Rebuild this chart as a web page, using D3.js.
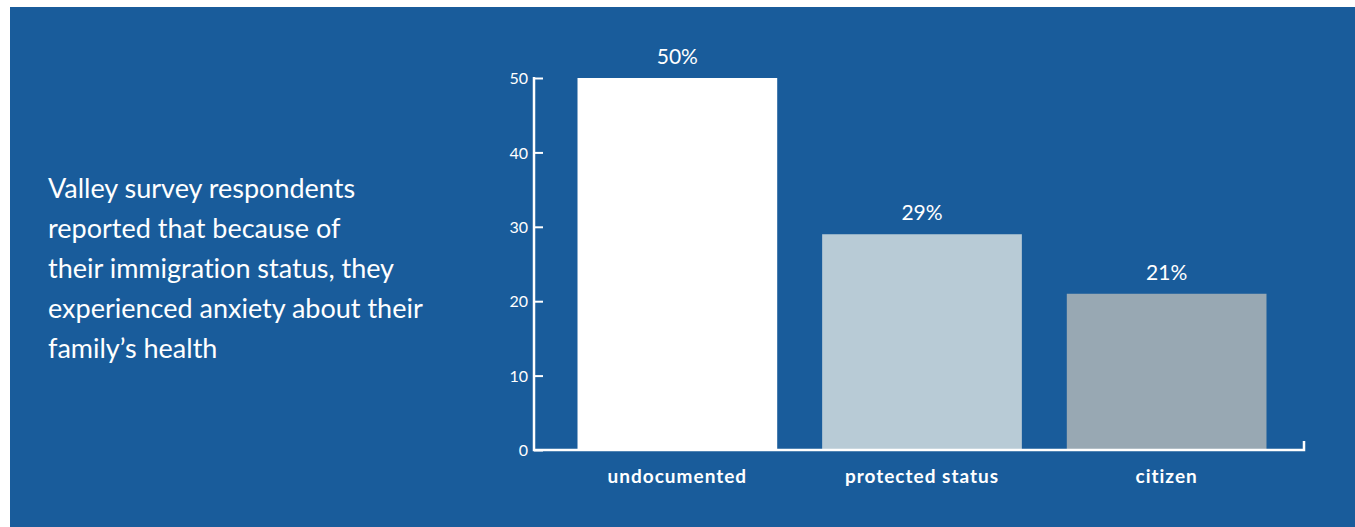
<!DOCTYPE html>
<html>
<head>
<meta charset="utf-8">
<script src="https://cdn.jsdelivr.net/npm/d3@7"></script>
<style>
  html, body { margin: 0; padding: 0; background: #ffffff; }
  svg { display: block; }
  text { font-family: Lato, "Open Sans", sans-serif; fill: #ffffff; font-variant-ligatures: none; }
</style>
</head>
<body>
<svg id="chart" width="1355" height="527"></svg>
<script>
// Share of respondents reporting anxiety about family health, by immigration status
const categories = ["undocumented", "protected status", "citizen"];
const values = [50, 29, 21];
const valueLabels = ["50%", "29%", "21%"];
const yTicks = [0, 10, 20, 30, 40, 50];
const barColors = ["#ffffff", "#b8cbd6", "#98a8b3"];
const noteLines = [
  "Valley survey respondents",
  "reported that because of",
  "their immigration status, they",
  "experienced anxiety about their",
  "family\u2019s health"
];

const svg = d3.select("#chart");

// panel background
svg.append("rect")
  .attr("x", 10).attr("y", 7)
  .attr("width", 1345).attr("height", 520)
  .attr("fill", "#195c9b");

// descriptive note on the left
svg.append("text")
  .attr("x", 48).attr("y", 198)
  .style("font-size", "27px")
  .style("font-weight", 400)
  .selectAll("tspan")
  .data(noteLines)
  .join("tspan")
  .attr("x", 48)
  .attr("dy", (d, i) => i === 0 ? 0 : 40)
  .text(d => d);

const axisX = 534, axisRight = 1304, baseY = 450, topY = 78;

const x = d3.scaleBand()
  .domain(categories)
  .range([555, 1289])
  .paddingInner(0.1837)
  .paddingOuter(0.092);

const y = d3.scaleLinear()
  .domain([0, 50])
  .range([baseY, topY]);

// bars
svg.append("g")
  .selectAll("rect")
  .data(categories)
  .join("rect")
  .attr("x", d => x(d))
  .attr("y", (d, i) => y(values[i]))
  .attr("width", x.bandwidth())
  .attr("height", (d, i) => y(0) - y(values[i]))
  .attr("fill", (d, i) => barColors[i]);

// value labels above bars
svg.append("g")
  .selectAll("text")
  .data(categories)
  .join("text")
  .attr("x", d => x(d) + x.bandwidth() / 2)
  .attr("y", (d, i) => y(values[i]) - 14)
  .attr("text-anchor", "middle")
  .style("font-size", "21px")
  .text((d, i) => valueLabels[i]);

// y axis: ticks pointing into the plot
const yAxis = d3.axisRight(y)
  .tickValues(yTicks)
  .tickSize(9)
  .tickFormat(d3.format("d"));

const gy = svg.append("g")
  .attr("transform", `translate(${axisX},0)`)
  .call(yAxis);
gy.select(".domain").remove();
gy.selectAll(".tick line").attr("stroke", "#ffffff").attr("stroke-width", 2);
gy.selectAll(".tick text")
  .attr("x", -6)
  .attr("text-anchor", "end")
  .attr("dy", "0.35em")
  .style("font-size", "16px")
  .style("font-family", "Lato, sans-serif")
  .attr("fill", "#ffffff");

// axis frame: vertical axis, baseline, and the closing tick at the right end
svg.append("path")
  .attr("d", `M${axisX},${topY - 1}V${baseY}H${axisRight}V${baseY - 9}`)
  .attr("fill", "none")
  .attr("stroke", "#ffffff")
  .attr("stroke-width", 2.5);

// category labels
svg.append("g")
  .selectAll("text")
  .data(categories)
  .join("text")
  .attr("x", d => x(d) + x.bandwidth() / 2)
  .attr("y", 483)
  .attr("text-anchor", "middle")
  .style("font-size", "19px")
  .style("font-weight", 700)
  .style("letter-spacing", "1px")
  .text(d => d);
</script>
</body>
</html>
